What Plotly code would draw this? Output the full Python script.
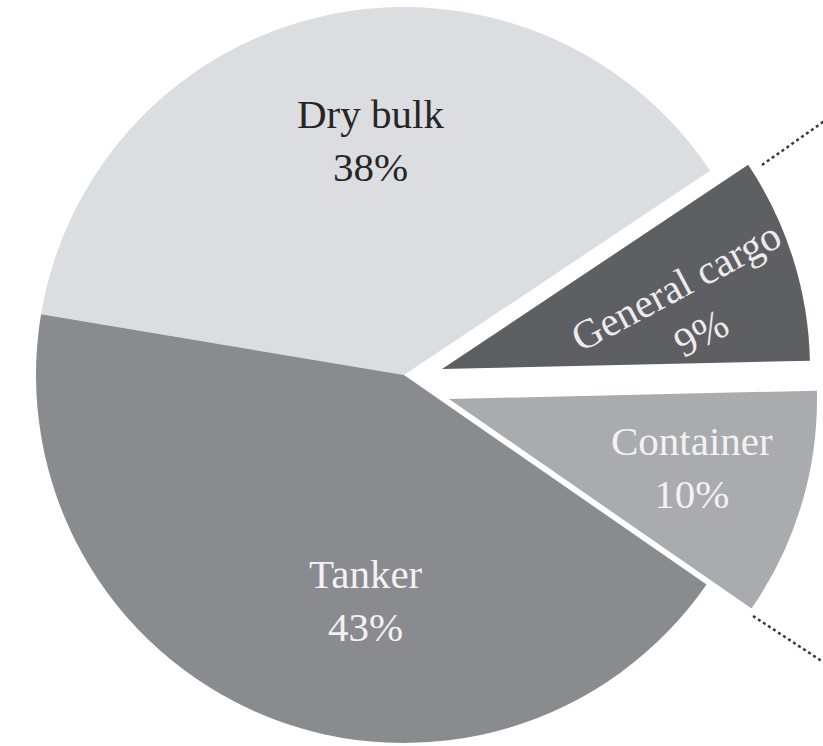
import plotly.graph_objects as go

# ---- data ----
labels = ["Dry bulk", "General cargo", "Container", "Tanker"]
values = [38, 9, 10, 43]
colors = ["#dcdde0", "#5e5f62", "#a9abae", "#8a8b8f"]
text_colors = ["#262626", "#ececec", "#f2f2f2", "#f2f2f2"]

# ---- layout geometry (pixels) ----
W, H = 823, 770
R = 368
ROT = -80.5
# slice groups: main pie, and two exploded slices (each with its own centre)
groups = [
    (["Dry bulk", "Tanker"], (404, 375)),
    (["General cargo"], (442, 369)),
    (["Container"], (449, 399)),
]

def px(x):
    return x / W

def py(y):
    return 1 - y / H

fig = go.Figure()
for members, (cx, cy) in groups:
    cols = [c if l in members else "rgba(0,0,0,0)" for l, c in zip(labels, colors)]
    fig.add_trace(go.Pie(
        labels=labels, values=values, sort=False, direction="clockwise",
        rotation=ROT, marker=dict(colors=cols, line=dict(width=0)),
        textinfo="none", hoverinfo="label+percent", showlegend=False,
        domain=dict(x=[px(cx - R), px(cx + R)], y=[py(cy + R), py(cy - R)]),
    ))

# ---- labels ----
label_pos = {
    "Dry bulk": (370, 140, 0),
    "General cargo": (688, 309, -28),
    "Container": (692, 467, 0),
    "Tanker": (366, 600, 0),
}
annotations = []
for l, v, tc in zip(labels, values, text_colors):
    x, y, ang = label_pos[l]
    annotations.append(dict(
        x=px(x), y=py(y), xref="paper", yref="paper", showarrow=False,
        text=f"{l}<br>{v}%", textangle=ang, xanchor="center", yanchor="middle",
        font=dict(family="Liberation Serif, Times New Roman, serif", size=41, color=tc),
    ))

# connector (dotted) lines toward the cropped secondary chart
shapes = [
    dict(type="line", xref="paper", yref="paper", x0=px(762), y0=py(165), x1=px(840), y1=py(110),
         line=dict(color="#3a3a3a", width=2.5, dash="dot")),
    dict(type="line", xref="paper", yref="paper", x0=px(753), y0=py(616), x1=px(840), y1=py(673),
         line=dict(color="#3a3a3a", width=2.5, dash="dot")),
]

fig.update_layout(
    width=W, height=H, margin=dict(l=0, r=0, t=0, b=0),
    paper_bgcolor="white", plot_bgcolor="white",
    annotations=annotations, shapes=shapes,
)
fig.write_html(
    "out.html",
    config={"displayModeBar": False},
    post_script="document.body.style.margin='0px';document.body.style.overflow='hidden';",
)
